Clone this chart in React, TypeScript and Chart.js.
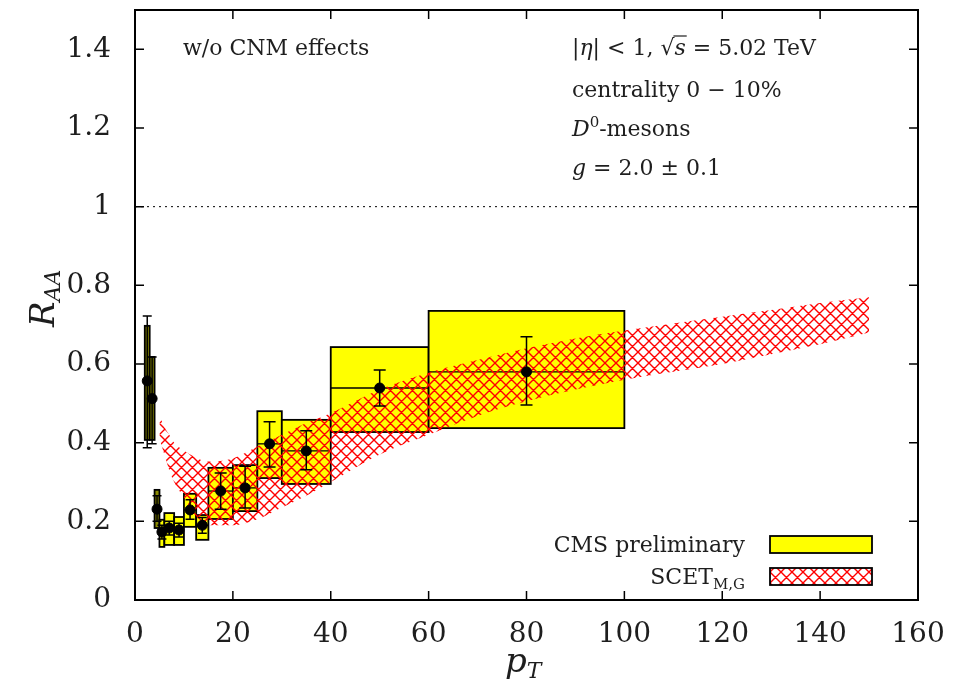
import React, { useEffect, useRef } from 'react';
import { Chart, registerables } from 'chart.js';
Chart.register(...registerables);

// CMS D0 data (pT bins)
const binLow = [2, 3, 4, 5, 6, 8, 10, 12.5, 15, 20, 25, 30, 40, 60];
const binHigh = [3, 4, 5, 6, 8, 10, 12.5, 15, 20, 25, 30, 40, 60, 100];
const ptCenter = [2.5, 3.5, 4.5, 5.5, 7, 9, 11.25, 13.75, 17.5, 22.5, 27.5, 35, 50, 80];
const raa = [0.557, 0.512, 0.231, 0.173, 0.183, 0.178, 0.229, 0.19, 0.277, 0.285, 0.397, 0.379, 0.539, 0.58];
const statLow = [0.387, 0.397, 0.2, 0.155, 0.165, 0.16, 0.205, 0.17, 0.231, 0.234, 0.338, 0.331, 0.493, 0.496];
const statHigh = [0.722, 0.618, 0.265, 0.19, 0.2, 0.195, 0.255, 0.21, 0.323, 0.34, 0.453, 0.43, 0.585, 0.669];
const sysLow = [0.407, 0.407, 0.183, 0.135, 0.14, 0.14, 0.186, 0.153, 0.206, 0.226, 0.31, 0.295, 0.427, 0.437];
const sysHigh = [0.697, 0.618, 0.28, 0.204, 0.221, 0.211, 0.27, 0.216, 0.336, 0.343, 0.48, 0.458, 0.643, 0.735];
const darkBins = [0, 1, 2];

// SCET_M,G band
const bandPt = [5, 6, 7, 8, 10, 12, 15, 20, 25, 30, 35, 40, 50, 60, 70, 80, 90, 100, 110, 120, 130, 140, 150];
const bandUpper = [0.47, 0.44, 0.42, 0.4, 0.38, 0.365, 0.352, 0.36, 0.39, 0.42, 0.45, 0.475, 0.535, 0.578, 0.61, 0.64, 0.665, 0.685, 0.703, 0.72, 0.737, 0.755, 0.77];
const bandLower = [0.41, 0.37, 0.33, 0.3, 0.26, 0.22, 0.19, 0.19, 0.205, 0.235, 0.265, 0.3, 0.37, 0.42, 0.468, 0.505, 0.535, 0.56, 0.58, 0.6, 0.625, 0.65, 0.68];

const xTicks = [0, 20, 40, 60, 80, 100, 120, 140, 160];
const yTicks = [0, 0.2, 0.4, 0.6, 0.8, 1, 1.2, 1.4];

const SERIF = '"DejaVu Serif"';
const TXT = '#1e1e1e';

function makeHatch(): CanvasPattern | string {
  const s = 11;
  const c = document.createElement('canvas');
  c.width = s;
  c.height = s;
  const g = c.getContext('2d');
  if (!g) return 'rgba(255,0,0,0.4)';
  g.strokeStyle = '#ff0000';
  g.lineWidth = 1.4;
  g.beginPath();
  for (const k of [-s, 0, s]) {
    g.moveTo(k, 0);
    g.lineTo(k + s, s);
    g.moveTo(k + s, 0);
    g.lineTo(k, s);
  }
  g.stroke();
  return g.createPattern(c, 'repeat') || 'red';
}

type Run = { t: string; f: string; dy?: number; over?: boolean };
function drawRuns(ctx: CanvasRenderingContext2D, x: number, y: number, runs: Run[], align: 'left' | 'right' = 'left') {
  let total = 0;
  for (const r of runs) {
    ctx.font = r.f;
    total += ctx.measureText(r.t).width;
  }
  let cx = align === 'left' ? x : x - total;
  ctx.textAlign = 'left';
  ctx.textBaseline = 'alphabetic';
  for (const r of runs) {
    ctx.font = r.f;
    const w = ctx.measureText(r.t).width;
    ctx.fillText(r.t, cx, y + (r.dy || 0));
    if (r.over) {
      ctx.beginPath();
      ctx.lineWidth = 1.2;
      ctx.moveTo(cx - 1, y - 19);
      ctx.lineTo(cx + w + 1, y - 19);
      ctx.stroke();
    }
    cx += w;
  }
}

export default function App() {
  const ref = useRef<HTMLCanvasElement | null>(null);
  useEffect(() => {
    if (!ref.current) return;
    const hatch = makeHatch();
    const f = (sz: number, it = false) => `${it ? 'italic ' : ''}${sz}px ${SERIF}`;

    const custom = {
      id: 'custom',
      beforeDatasetsDraw(chart: any) {
        const { ctx, scales } = chart;
        const x = scales.x, y = scales.y;
        ctx.save();
        for (let i = 0; i < binLow.length; i++) {
          const x0 = x.getPixelForValue(binLow[i]);
          const x1 = x.getPixelForValue(binHigh[i]);
          const yt = y.getPixelForValue(sysHigh[i]);
          const yb = y.getPixelForValue(sysLow[i]);
          const yc = y.getPixelForValue(raa[i]);
          ctx.fillStyle = darkBins.includes(i) ? '#8a8a00' : '#ffff00';
          ctx.fillRect(x0, yt, x1 - x0, yb - yt);
          ctx.strokeStyle = '#000';
          ctx.lineWidth = 1.8;
          ctx.strokeRect(x0, yt, x1 - x0, yb - yt);
          ctx.lineWidth = 1.3;
          ctx.beginPath();
          ctx.moveTo(x0, yc);
          ctx.lineTo(x1, yc);
          ctx.stroke();
        }
        ctx.restore();
      },
      afterDatasetsDraw(chart: any) {
        const { ctx, scales, chartArea: a } = chart;
        const x = scales.x, y = scales.y;
        ctx.save();
        // error bars
        ctx.strokeStyle = '#000';
        ctx.lineWidth = 1.5;
        for (let i = 0; i < ptCenter.length; i++) {
          const px = x.getPixelForValue(ptCenter[i]);
          const y0 = y.getPixelForValue(statLow[i]);
          const y1 = y.getPixelForValue(statHigh[i]);
          const cw = i < 8 ? 4.5 : 6;
          ctx.beginPath();
          ctx.moveTo(px, y0);
          ctx.lineTo(px, y1);
          ctx.moveTo(px - cw, y0);
          ctx.lineTo(px + cw, y0);
          ctx.moveTo(px - cw, y1);
          ctx.lineTo(px + cw, y1);
          ctx.stroke();
        }
        // dotted line at 1
        const y1p = y.getPixelForValue(1);
        ctx.setLineDash([2, 4]);
        ctx.lineWidth = 1;
        ctx.beginPath();
        ctx.moveTo(a.left, y1p);
        ctx.lineTo(a.right, y1p);
        ctx.stroke();
        ctx.setLineDash([]);
        // frame
        ctx.lineWidth = 2;
        ctx.strokeRect(a.left, a.top, a.right - a.left, a.bottom - a.top);
        // inward ticks
        ctx.lineWidth = 1.5;
        ctx.beginPath();
        for (const v of xTicks) {
          const px = x.getPixelForValue(v);
          ctx.moveTo(px, a.bottom);
          ctx.lineTo(px, a.bottom - 9);
          ctx.moveTo(px, a.top);
          ctx.lineTo(px, a.top + 9);
        }
        for (const v of yTicks) {
          const py = y.getPixelForValue(v);
          ctx.moveTo(a.left, py);
          ctx.lineTo(a.left + 9, py);
          ctx.moveTo(a.right, py);
          ctx.lineTo(a.right - 9, py);
        }
        ctx.stroke();

        // annotations
        ctx.fillStyle = TXT;
        ctx.strokeStyle = TXT;
        drawRuns(ctx, 183, 55, [{ t: 'w/o CNM effects', f: f(22) }]);
        drawRuns(ctx, 572, 55, [
          { t: '|', f: f(22) },
          { t: 'η', f: f(22, true) },
          { t: '| < 1, ', f: f(22) },
          { t: '√', f: f(22) },
          { t: 's', f: f(22, true), over: true },
          { t: ' = 5.02 TeV', f: f(22) },
        ]);
        drawRuns(ctx, 572, 97, [{ t: 'centrality 0 − 10%', f: f(22) }]);
        drawRuns(ctx, 572, 136, [
          { t: 'D', f: f(22, true) },
          { t: '0', f: f(15), dy: -9 },
          { t: '-mesons', f: f(22) },
        ]);
        drawRuns(ctx, 572, 175, [
          { t: 'g', f: f(22, true) },
          { t: ' = 2.0 ± 0.1', f: f(22) },
        ]);

        // legend
        drawRuns(ctx, 745, 552, [{ t: 'CMS preliminary', f: f(22) }], 'right');
        drawRuns(ctx, 745, 584, [
          { t: 'SCET', f: f(22) },
          { t: 'M,G', f: f(15), dy: 5 },
        ], 'right');
        ctx.fillStyle = '#ffff00';
        ctx.fillRect(770, 536, 102, 17);
        ctx.strokeStyle = '#000';
        ctx.lineWidth = 1.8;
        ctx.strokeRect(770, 536, 102, 17);
        ctx.fillStyle = '#fff';
        ctx.fillRect(770, 568, 102, 17);
        ctx.fillStyle = hatch as any;
        ctx.fillRect(770, 568, 102, 17);
        ctx.strokeRect(770, 568, 102, 17);

        // axis titles
        ctx.fillStyle = TXT;
        drawRuns(ctx, 505, 672, [
          { t: 'p', f: f(34, true) },
          { t: 'T', f: f(22, true), dy: 6 },
        ]);
        ctx.save();
        ctx.translate(54, 285);
        ctx.rotate(-Math.PI / 2);
        drawRuns(ctx, -42, 0, [
          { t: 'R', f: f(34, true) },
          { t: 'AA', f: f(22, true), dy: 6 },
        ]);
        ctx.restore();
        ctx.restore();
      },
    };

    const chart = new Chart(ref.current, {
      type: 'scatter',
      data: {
        datasets: [
          {
            label: 'CMS',
            data: ptCenter.map((v, i) => ({ x: v, y: raa[i] })),
            pointRadius: 5,
            pointBackgroundColor: '#000',
            pointBorderColor: '#000',
            showLine: false,
          },
          {
            label: 'lower',
            data: bandPt.map((v, i) => ({ x: v, y: bandLower[i] })),
            showLine: true,
            pointRadius: 0,
            borderWidth: 0,
            borderColor: 'transparent',
            cubicInterpolationMode: 'monotone',
            fill: false,
          },
          {
            label: 'SCET',
            data: bandPt.map((v, i) => ({ x: v, y: bandUpper[i] })),
            showLine: true,
            pointRadius: 0,
            borderWidth: 0,
            borderColor: 'transparent',
            backgroundColor: hatch as any,
            cubicInterpolationMode: 'monotone',
            fill: '-1',
          },
        ] as any,
      },
      options: {
        responsive: true,
        maintainAspectRatio: false,
        animation: false,
        layout: { padding: { left: 0, right: 37, top: 10, bottom: 0 } },
        plugins: { legend: { display: false }, tooltip: { enabled: false } },
        scales: {
          x: {
            type: 'linear',
            min: 0,
            max: 160,
            ticks: { stepSize: 20, font: { family: SERIF, size: 28 }, color: TXT, padding: 18, maxRotation: 0 },
            grid: { display: false, drawTicks: false },
            border: { display: false },
            afterFit: (s: any) => {
              s.height = 91;
              s.paddingLeft = 0;
              s.paddingRight = 0;
              s.paddingTop = 0;
              s.paddingBottom = 0;
            },
          },
          y: {
            type: 'linear',
            min: 0,
            max: 1.5,
            afterBuildTicks: (s: any) => { s.ticks = s.ticks.filter((t: any) => t.value <= 1.41); },
            ticks: {
              stepSize: 0.2,
              font: { family: SERIF, size: 28 },
              color: TXT,
              padding: 24,
              callback: (v: any) => String(Number(Number(v).toFixed(1))),
            },
            grid: { display: false, drawTicks: false },
            border: { display: false },
            afterFit: (s: any) => {
              s.width = 135;
              s.paddingTop = 0;
              s.paddingBottom = 0;
              s.paddingLeft = 0;
              s.paddingRight = 0;
            },
          },
        },
      } as any,
      plugins: [custom],
    });
    return () => chart.destroy();
  }, []);

  return (
    <div style={{ position: 'fixed', left: 0, top: 0, width: 955, height: 691, background: '#fff' }}>
      <canvas ref={ref} />
    </div>
  );
}
